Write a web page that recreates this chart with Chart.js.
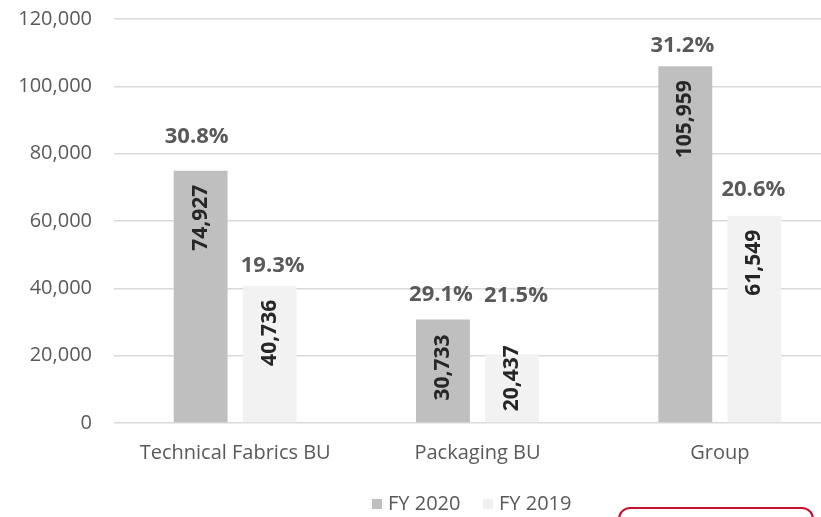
<!DOCTYPE html>
<html>
<head>
<meta charset="utf-8">
<script src="https://cdn.jsdelivr.net/npm/chart.js@4/dist/chart.umd.min.js"></script>
<style>
  html, body { margin: 0; padding: 0; background: #fff; overflow: hidden; }
  #wrap { position: relative; width: 821px; height: 517px; overflow: hidden; }
  #chart { position: absolute; left: 0; top: 0; }
  #redBox {
    position: absolute; left: 618px; top: 507px; width: 196px; height: 40px;
    border: 2px solid #c8102e; border-radius: 12px; box-sizing: border-box;
  }
</style>
</head>
<body>
<div id="wrap">
  <canvas id="chart" width="841" height="517"></canvas>
  <div id="redBox"></div>
</div>
<script>
// データ
var categories = ["Technical Fabrics BU", "Packaging BU", "Group"];
var seriesNames = ["FY 2020", "FY 2019"];
var fy2020 = [74927, 30733, 105959];
var fy2019 = [40736, 20437, 61549];
var margin2020 = ["30.8%", "29.1%", "31.2%"];
var margin2019 = ["19.3%", "21.5%", "20.6%"];
var yTicks = [0, 20000, 40000, 60000, 80000, 100000, 120000];

// label placement (px above bar top / px below bar top)
var pctGap = [[34, 25, 21], [20, 58, 26]];
var pctShift = [[-4, -2, -3], [3, 4, -1]];
var valGap = [[14, 15, 14], [14, -9, 14]];
var legendX = [372, 483];

var FONT = "'Open Sans', 'DejaVu Sans', sans-serif";

var labelPlugin = {
  id: 'barLabels',
  afterDatasetsDraw: function(chart) {
    var ctx = chart.ctx;
    var pcts = [margin2020, margin2019];
    chart.data.datasets.forEach(function(ds, d) {
      var meta = chart.getDatasetMeta(d);
      meta.data.forEach(function(bar, i) {
        // percentage above bar
        ctx.save();
        ctx.font = "bold 22px " + FONT;
        ctx.fillStyle = "#595959";
        ctx.textAlign = "center";
        ctx.textBaseline = "middle";
        ctx.fillText(pcts[d][i], bar.x + pctShift[d][i], bar.y - pctGap[d][i]);
        ctx.restore();

        // value inside bar, rotated
        ctx.save();
        ctx.translate(bar.x, bar.y + valGap[d][i]);
        ctx.rotate(-Math.PI / 2);
        ctx.font = "bold 21px " + FONT;
        ctx.fillStyle = "#262626";
        ctx.textAlign = "right";
        ctx.textBaseline = "middle";
        ctx.fillText(ds.data[i].toLocaleString('en-US'), 0, 0);
        ctx.restore();
      });
    });

    // legend
    chart.data.datasets.forEach(function(ds, d) {
      ctx.save();
      ctx.fillStyle = ds.backgroundColor;
      ctx.fillRect(legendX[d], 499, 10, 10);
      ctx.font = "20px " + FONT;
      ctx.fillStyle = "#595959";
      ctx.textAlign = "left";
      ctx.textBaseline = "middle";
      ctx.fillText(ds.label, legendX[d] + 16, 504);
      ctx.restore();
    });
  }
};

var ctx = document.getElementById("chart").getContext("2d");

var myBarChart = new Chart(ctx, {
  type: 'bar',
  data: {
    labels: categories,
    datasets: [{
      label: seriesNames[0],
      data: fy2020,
      backgroundColor: "#bfbfbf",
      categoryPercentage: 0.57,
      barPercentage: 0.78
    }, {
      label: seriesNames[1],
      data: fy2019,
      backgroundColor: "#f2f2f2",
      categoryPercentage: 0.57,
      barPercentage: 0.78
    }]
  },
  options: {
    responsive: false,
    animation: false,
    layout: {
      padding: { top: 19, right: 0, bottom: 0, left: 0 }
    },
    scales: {
      x: {
        grid: { display: false },
        border: { display: false },
        ticks: {
          color: "#595959",
          font: { family: FONT, size: 20 },
          padding: 10
        },
        afterFit: function(scale) { scale.height = 94; }
      },
      y: {
        min: 0,
        max: 120000,
        afterBuildTicks: function(scale) {
          scale.ticks = yTicks.map(function(v) { return { value: v }; });
        },
        grid: { color: "#d9d9d9", lineWidth: 1.5, drawTicks: false },
        border: { display: false },
        ticks: {
          color: "#595959",
          font: { family: FONT, size: 20 },
          padding: 22,
          callback: function(v) { return v.toLocaleString('en-US'); }
        },
        afterFit: function(scale) {
          scale.width = 114;
          scale.paddingTop = 0;
          scale.paddingBottom = 0;
        }
      }
    },
    plugins: {
      legend: { display: false },
      tooltip: { enabled: false }
    }
  },
  plugins: [labelPlugin]
});
</script>
</body>
</html>
